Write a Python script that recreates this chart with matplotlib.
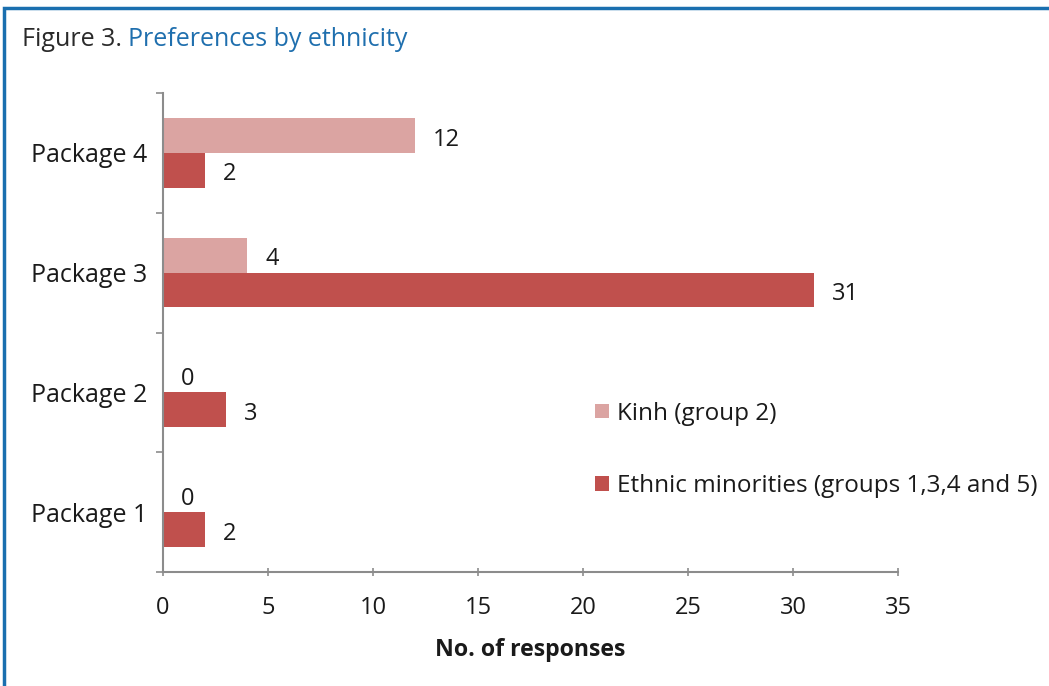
import numpy as np
import matplotlib.pyplot as plt
from matplotlib.patches import Rectangle

plt.rcParams['font.family'] = ['Open Sans', 'DejaVu Sans']

packages = ['Package 1', 'Package 2', 'Package 3', 'Package 4']
kinh = [0, 0, 4, 12]
minorities = [2, 3, 31, 2]
series_names = ['Kinh (group 2)', 'Ethnic minorities (groups 1,3,4 and 5)']

kinh_color = '#DBA4A2'
minority_color = '#C0504D'
axis_color = '#8C8C8C'
text_color = '#1A1A1A'

fig = plt.figure(figsize=(10.49, 6.86), dpi=100)
ax = fig.add_axes([0.1554, 0.1662, 0.7007, 0.6982])

y = np.arange(len(packages))
h = 0.29
b1 = ax.barh(y + h / 2, kinh, height=h, color=kinh_color, label=series_names[0])
b2 = ax.barh(y - h / 2, minorities, height=h, color=minority_color, label=series_names[1])

for bars, vals in [(b1, kinh), (b2, minorities)]:
    for rect, v in zip(bars, vals):
        ax.annotate(str(v), (v, rect.get_y() + rect.get_height() / 2),
                    xytext=(13, -3), textcoords='offset points',
                    ha='left', va='center', fontsize=17, color=text_color)

ax.set_xlim(0, 35)
ax.set_ylim(-0.5, len(packages) - 0.5)
ax.set_xticks(range(0, 36, 5))
ax.set_yticks(y)
ax.set_yticklabels(packages)
ax.set_yticks(np.arange(-0.5, len(packages)), minor=True)
ax.tick_params(axis='y', which='major', length=0, pad=11, labelsize=18, labelcolor=text_color)
ax.tick_params(axis='y', which='minor', length=5, width=1.2, color=axis_color)
ax.tick_params(axis='x', length=6, width=1.2, color=axis_color, direction='inout',
               pad=14, labelsize=17, labelcolor=text_color)

for side in ['top', 'right']:
    ax.spines[side].set_visible(False)
for side in ['left', 'bottom']:
    ax.spines[side].set_color(axis_color)
    ax.spines[side].set_linewidth(1.5)

ax.set_xlabel('No. of responses', fontsize=16.7, fontweight='bold', color=text_color, labelpad=13)

ax.legend(loc='upper left', bbox_to_anchor=(0.575, 0.376), frameon=False,
          fontsize=17.5, labelspacing=2.0, handlelength=0.55, handleheight=0.55,
          handletextpad=0.35, labelcolor=text_color, borderaxespad=0)

# blue frame around the figure panel
fig.patches.append(Rectangle((4 / 1049, -0.1), 1.2, 1.1 - 8 / 686, transform=fig.transFigure,
                             fill=False, edgecolor='#1A6FAF', linewidth=2.5))

t1 = fig.text(22 / 1049, 1 - 40 / 686, 'Figure 3. ', fontsize=18, color='#2A2A2A', va='center')
fig.canvas.draw()
bb = t1.get_window_extent()
fig.text(bb.x1 / 1049, 1 - 40 / 686, 'Preferences by ethnicity', fontsize=18,
         color='#1F6FAE', va='center')

fig.savefig('out.png', dpi=100)
